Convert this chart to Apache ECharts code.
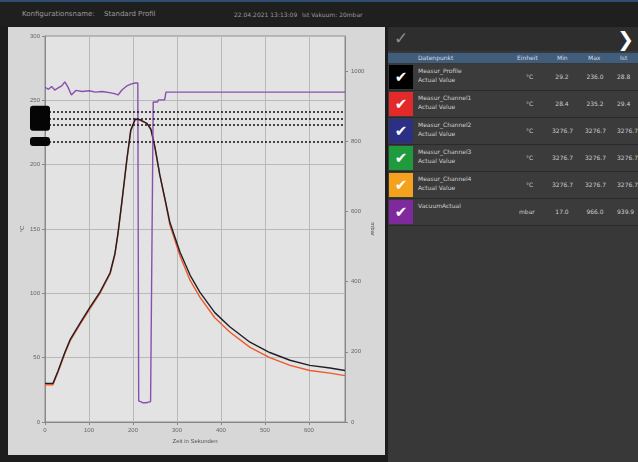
<!DOCTYPE html>
<html>
<head>
<meta charset="utf-8">
<script src="https://cdn.jsdelivr.net/npm/echarts@6/dist/echarts.min.js"></script>
<style>
  body { margin: 0; width: 638px; height: 462px; background: #1d1d1d; overflow: hidden; font-family: "DejaVu Sans", sans-serif; }
  .topbar { position: absolute; left: 0; top: 0; width: 638px; height: 24px; background: #1f1f1f; border-top: 2px solid #2c4e70; color: #9a9a9a; font-size: 7px; }
  .topbar span { position: absolute; top: 8px; }
  .panel { position: absolute; left: 8px; top: 27px; width: 377px; height: 428px; background: #d7d7d7; }
  #chart { width: 377px; height: 428px; }
  .right { position: absolute; left: 388px; top: 27px; width: 250px; height: 435px; background: #383838; color: #cdcdcd; }
  .toprow { position: absolute; left: 0; top: 0; width: 250px; height: 24px; background: #2e2e2e; }
  .chk { position: absolute; left: 6px; top: 1px; font-size: 17px; color: #8c8c8c; }
  .next { position: absolute; right: 4px; top: 0px; font-size: 20px; color: #fff; font-weight: bold; }
  .head { position: absolute; left: 0; top: 26px; width: 250px; height: 10px; background: #405d7c; font-size: 6px; color: #d6dde6; }
  .head span, .row span { position: absolute; }
  .row { position: absolute; left: 0; width: 250px; height: 26px; background: #3b3b3b; border-bottom: 1px solid #2a2a2a; font-size: 6px; color: #cdcdcd; }
  .sw { position: absolute; left: 1px; top: 1px; width: 24px; height: 24px; color: #fff; font-size: 15px; text-align: center; line-height: 24px; font-weight: bold; }
</style>
</head>
<body>
<div class="topbar">
  <span style="left:22px">Konfigurationsname:</span>
  <span style="left:104px">Standard Profil</span>
  <span style="left:234px;font-size:6px;top:9px">22.04.2021 13:13:09</span>
  <span style="left:302px;font-size:6px;top:9px">Ist Vakuum: 20mbar</span>
</div>
<div class="panel"><div id="chart"></div></div>
<div class="right" id="right">
  <div class="toprow"><span class="chk">&#10003;</span><span class="next">&#x276F;</span></div>
  <div class="head">
    <span style="left:30px;top:1px">Datenpunkt</span>
    <span style="left:129px;top:1px">Einheit</span>
    <span style="left:169px;top:1px">Min</span>
    <span style="left:200px;top:1px">Max</span>
    <span style="left:232px;top:1px">Ist</span>
  </div>
</div>
<script>
  var tempTime = [0, 10, 18, 30, 45, 57, 80, 102, 125, 148, 159, 166, 175, 186, 195, 205, 216, 232, 241, 250, 261, 273, 284, 307, 330, 352, 386, 420, 466, 511, 557, 602, 648, 682]
  var profileVals = [30, 30, 30, 40, 54, 64, 77, 89, 101, 116, 131, 147, 172, 204, 227, 235.5, 235, 232, 227, 213, 192, 173, 155, 132, 114, 101, 85, 74, 62, 54, 48, 44, 42, 40]
  var channel1Vals = [29, 29, 29, 39, 53, 63, 76, 88, 100, 115, 130, 146, 171, 203, 226, 235, 234.5, 232, 228, 214, 192, 172, 153, 129, 110, 97, 81, 70, 58, 50, 44, 40, 38, 36]
  var vacTime = [0, 8, 15, 22, 30, 38, 45, 52, 60, 70, 85, 100, 115, 130, 150, 160, 166, 175, 185, 195, 205, 211, 213, 222, 230, 240, 246, 256, 258, 272, 275, 682]
  var vacVals = [954, 948, 956, 946, 952, 958, 969, 955, 932, 945, 942, 944, 940, 942, 938, 935, 932, 946, 957, 963, 966, 966, 60, 55, 55, 58, 912, 912, 918, 918, 940, 940]
  var limitLines = [241, 236, 231, 218]

  // Tabelle rechts
  var rowNames = ['Measur_Profile', 'Measur_Channel1', 'Measur_Channel2', 'Measur_Channel3', 'Measur_Channel4', 'VacuumActual']
  var rowSub = ['Actual Value', 'Actual Value', 'Actual Value', 'Actual Value', 'Actual Value', '']
  var rowUnits = ['°C', '°C', '°C', '°C', '°C', 'mbar']
  var rowMin = ['29.2', '28.4', '3276.7', '3276.7', '3276.7', '17.0']
  var rowMax = ['236.0', '235.2', '3276.7', '3276.7', '3276.7', '966.0']
  var rowIst = ['28.8', '29.4', '3276.7', '3276.7', '3276.7', '939.9']
  var rowColors = ['#000000', '#e32a2a', '#2b2f86', '#1f9a3c', '#f4a21d', '#7f2a9c']

  var right = document.getElementById('right')
  for (var i = 0; i < rowNames.length; i++) {
    var r = document.createElement('div')
    r.className = 'row'
    r.style.top = (37 + i * 27) + 'px'
    r.innerHTML = '<div class="sw" style="background:' + rowColors[i] + '">&#10004;</div>' +
      '<span style="left:30px;top:3px">' + rowNames[i] + '</span>' +
      '<span style="left:30px;top:12px">' + rowSub[i] + '</span>' +
      '<span style="left:' + (rowUnits[i] === 'mbar' ? 131 : 138) + 'px;top:9px">' + rowUnits[i] + '</span>' +
      '<span style="left:164px;top:9px;width:20px;text-align:center">' + rowMin[i] + '</span>' +
      '<span style="left:197px;top:9px;width:20px;text-align:center">' + rowMax[i] + '</span>' +
      '<span style="left:229px;top:9px">' + rowIst[i] + '</span>'
    right.appendChild(r)
  }

  function pairs(xs, ys) {
    var out = []
    for (var k = 0; k < xs.length; k++) out.push([xs[k], ys[k]])
    return out
  }

  var myChart = echarts.init(document.getElementById('chart'))
  var lbl = { fontSize: 6, color: '#666' }
  myChart.setOption({
    animation: false,
    grid: {
      left: 37, right: 40, top: 9, bottom: 33, outerBoundsMode: 'none',
      show: true, backgroundColor: '#e3e3e3', borderColor: '#8c8c8c', borderWidth: 1
    },
    xAxis: {
      type: 'value', min: 0, max: 682, interval: 100,
      axisLine: { lineStyle: { color: '#888' } },
      axisTick: { length: 3, lineStyle: { color: '#888' } },
      axisLabel: Object.assign({ showMaxLabel: false, margin: 5 }, lbl),
      splitLine: { lineStyle: { color: '#b9b9b9' } },
      name: 'Zeit in Sekunden', nameLocation: 'middle', nameGap: 16,
      nameTextStyle: { fontSize: 6, color: '#555' }
    },
    yAxis: [
      {
        type: 'value', min: 0, max: 300, interval: 50,
        axisLine: { show: true, lineStyle: { color: '#888' } },
        axisTick: { show: true, length: 3, lineStyle: { color: '#888' } },
        axisLabel: Object.assign({ margin: 5 }, lbl),
        splitLine: { lineStyle: { color: '#b9b9b9' } },
        name: '°C', nameLocation: 'middle', nameRotate: 90, nameGap: 20, nameMoveOverlap: false,
        nameTextStyle: { fontSize: 6, color: '#555' }
      },
      {
        type: 'value', min: 0, max: 1100, interval: 200, position: 'right',
        axisLine: { show: true, lineStyle: { color: '#888' } },
        axisTick: { show: true, length: 3, lineStyle: { color: '#888' } },
        axisLabel: Object.assign({ showMaxLabel: false, margin: 6, formatter: function (v) { return String(v) } }, lbl),
        splitLine: { show: false },
        name: 'mbar', nameLocation: 'middle', nameRotate: -90, nameGap: 25, nameMoveOverlap: false,
        nameTextStyle: { fontSize: 6, color: '#555' }
      }
    ],
    series: [
      {
        name: 'Measur_Channel1', type: 'line', yAxisIndex: 0, symbol: 'none',
        data: pairs(tempTime, channel1Vals),
        lineStyle: { color: '#ec5a2a', width: 1.4 }
      },
      {
        name: 'Measur_Profile', type: 'line', yAxisIndex: 0, symbol: 'none',
        data: pairs(tempTime, profileVals),
        lineStyle: { color: '#1f1f2a', width: 1.4 },
        markLine: {
          symbol: 'none', silent: true,
          lineStyle: { color: '#111', type: [2, 2], width: 1.5 },
          label: { show: false },
          data: limitLines.map(function (v, idx) {
            var d = { yAxis: v }
            if (idx === 1 || idx === 3) {
              d.label = {
                show: true, position: 'start', formatter: ' ', distance: -5,
                backgroundColor: '#050505', borderRadius: 3, padding: 0,
                width: 20, height: idx === 1 ? 25 : 9, color: 'transparent'
              }
            }
            return d
          })
        }
      },
      {
        name: 'VacuumActual', type: 'line', yAxisIndex: 1, symbol: 'none',
        data: pairs(vacTime, vacVals),
        lineStyle: { color: '#8a4fae', width: 1.4 }
      }
    ]
  })
</script>
</body>
</html>
